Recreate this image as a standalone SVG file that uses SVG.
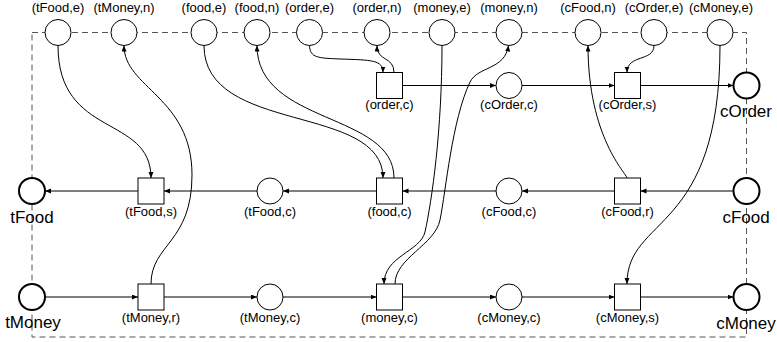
<svg xmlns="http://www.w3.org/2000/svg" width="777" height="342" viewBox="0 0 777 342">
<defs>
<marker id="ah" markerUnits="userSpaceOnUse" markerWidth="7" markerHeight="6" refX="6" refY="2.5" orient="auto">
<path d="M0,0 L6,2.5 L0,5 z" fill="#000"/>
</marker>
<style>
.pl{fill:#fff;stroke:#000;stroke-width:1}
.io{fill:#fff;stroke:#000;stroke-width:2}
.tr{fill:#fff;stroke:#000;stroke-width:1}
.c{fill:none;stroke:#000;stroke-width:1;marker-end:url(#ah)}
.n{fill:none;stroke:#000;stroke-width:1}
.s{font-family:"Liberation Sans",Arial,sans-serif;font-size:13px;fill:#000;text-anchor:middle}
.b{font-family:"Liberation Sans",Arial,sans-serif;font-size:17px;fill:#000;text-anchor:middle}
.bd{fill:none;stroke:#555;stroke-width:1;stroke-dasharray:6 4}
</style>
</defs>
<rect width="777" height="342" fill="#fff"/>
<path class="bd" d="M32,32.5 H746.5 V337 H32 Z"/>
<g id="connectors">
<path class="c" d="M402.5,85.5 H496"/>
<path class="c" d="M522,85.5 H614.5"/>
<path class="c" d="M640.5,85.5 H733.5"/>
<path class="c" d="M733.5,191 H640.5"/>
<path class="c" d="M614.5,191 H522"/>
<path class="c" d="M496,191 H402.5"/>
<path class="c" d="M376.5,191 H283"/>
<path class="c" d="M257,191 H164"/>
<path class="c" d="M138,191 H45"/>
<path class="c" d="M45,297 H138"/>
<path class="c" d="M164,297 H257"/>
<path class="c" d="M283,297 H376.5"/>
<path class="c" d="M402.5,297 H496"/>
<path class="c" d="M522,297 H614.5"/>
<path class="c" d="M640.5,297 H733.5"/>
<path class="c" d="M58,45.5 C58,139 151,114 151,178"/>
<path class="c" d="M151,284 C151,244 192,243 192,175 C192,97 124,88 124,45.5"/>
<path class="c" d="M204,45.5 C204,135 383,103 383,178"/>
<path class="c" d="M394,178 C394,112 257,125 257,45.5"/>
<path class="c" d="M309.5,45.5 C310,58 318,58 340,59 C372,60 383,60 383,72.5"/>
<path class="c" d="M394,72.5 C394,56 377,62 377,45.5"/>
<path class="c" d="M442,45.5 C442,130 432,200 425,232 C420,252 384,256 384,284"/>
<path class="c" d="M395,284 C395,258 435,245 440,220 C446,190 452,120 470,82 C478,66 505,70 508.5,45.5"/>
<path class="c" d="M627,178 C627,174 588,138 588,45.5"/>
<path class="c" d="M654,45.5 C654,62 627,54 627,72.5"/>
<path class="c" d="M720,45.5 C720,235 627,215 627,284"/>
</g>
<g id="p-tFood-e"><circle class="pl" cx="58" cy="32.5" r="13"/><text class="s" x="58" y="12">(tFood,e)</text></g>
<g id="p-tMoney-n"><circle class="pl" cx="124" cy="32.5" r="13"/><text class="s" x="124" y="12">(tMoney,n)</text></g>
<g id="p-food-e"><circle class="pl" cx="204" cy="32.5" r="13"/><text class="s" x="204" y="12">(food,e)</text></g>
<g id="p-food-n"><circle class="pl" cx="257" cy="32.5" r="13"/><text class="s" x="257" y="12">(food,n)</text></g>
<g id="p-order-e"><circle class="pl" cx="309.5" cy="32.5" r="13"/><text class="s" x="309.5" y="12">(order,e)</text></g>
<g id="p-order-n"><circle class="pl" cx="377" cy="32.5" r="13"/><text class="s" x="377" y="12">(order,n)</text></g>
<g id="p-money-e"><circle class="pl" cx="442" cy="32.5" r="13"/><text class="s" x="442" y="12">(money,e)</text></g>
<g id="p-money-n"><circle class="pl" cx="509" cy="32.5" r="13"/><text class="s" x="509" y="12">(money,n)</text></g>
<g id="p-cFood-n"><circle class="pl" cx="588" cy="32.5" r="13"/><text class="s" x="588" y="12">(cFood,n)</text></g>
<g id="p-cOrder-e"><circle class="pl" cx="654" cy="32.5" r="13"/><text class="s" x="654" y="12">(cOrder,e)</text></g>
<g id="p-cMoney-e"><circle class="pl" cx="720" cy="32.5" r="13"/><text class="s" x="721" y="12">(cMoney,e)</text></g>
<g id="t-order-c"><rect class="tr" x="376.5" y="72.5" width="26" height="26"/><text class="s" x="389.5" y="109">(order,c)</text></g>
<g id="p-cOrder-c"><circle class="pl" cx="509" cy="85.5" r="13"/><text class="s" x="509" y="109">(cOrder,c)</text></g>
<g id="t-cOrder-s"><rect class="tr" x="614.5" y="72.5" width="26" height="26"/><text class="s" x="627.5" y="109">(cOrder,s)</text></g>
<g id="p-cOrder"><circle class="io" cx="746.5" cy="85.5" r="13"/><text class="b" x="746" y="117">cOrder</text></g>
<g id="p-tFood"><circle class="io" cx="32" cy="191" r="13"/><text class="b" x="32" y="223">tFood</text></g>
<g id="t-tFood-s"><rect class="tr" x="138" y="178" width="26" height="26"/><text class="s" x="151" y="216">(tFood,s)</text></g>
<g id="p-tFood-c"><circle class="pl" cx="270" cy="191" r="13"/><text class="s" x="270" y="216">(tFood,c)</text></g>
<g id="t-food-c"><rect class="tr" x="376.5" y="178" width="26" height="26"/><text class="s" x="389.5" y="216">(food,c)</text></g>
<g id="p-cFood-c"><circle class="pl" cx="509" cy="191" r="13"/><text class="s" x="509" y="216">(cFood,c)</text></g>
<g id="t-cFood-r"><rect class="tr" x="614.5" y="178" width="26" height="26"/><text class="s" x="627.5" y="216">(cFood,r)</text></g>
<g id="p-cFood"><circle class="io" cx="746.5" cy="191" r="13"/><text class="b" x="746" y="223">cFood</text></g>
<g id="p-tMoney"><circle class="io" cx="32" cy="297" r="13"/><text class="b" x="33" y="328">tMoney</text></g>
<g id="t-tMoney-r"><rect class="tr" x="138" y="284" width="26" height="26"/><text class="s" x="151" y="322">(tMoney,r)</text></g>
<g id="p-tMoney-c"><circle class="pl" cx="270" cy="297" r="13"/><text class="s" x="270" y="322">(tMoney,c)</text></g>
<g id="t-money-c"><rect class="tr" x="376.5" y="284" width="26" height="26"/><text class="s" x="389.5" y="322">(money,c)</text></g>
<g id="p-cMoney-c"><circle class="pl" cx="509" cy="297" r="13"/><text class="s" x="509" y="322">(cMoney,c)</text></g>
<g id="t-cMoney-s"><rect class="tr" x="614.5" y="284" width="26" height="26"/><text class="s" x="627.5" y="322">(cMoney,s)</text></g>
<g id="p-cMoney"><circle class="io" cx="746.5" cy="297" r="13"/><text class="b" x="746" y="329">cMoney</text></g>
</svg>
